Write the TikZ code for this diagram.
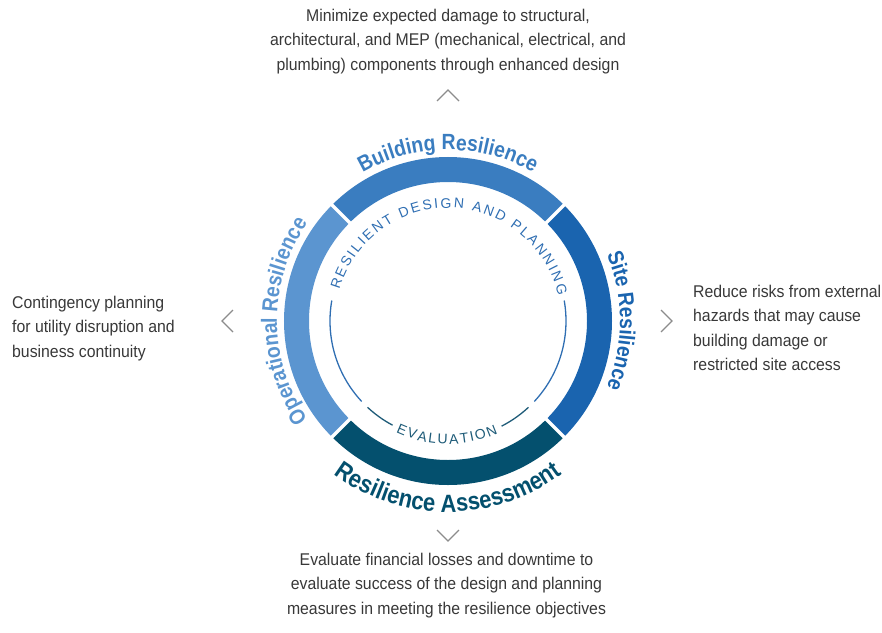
\documentclass[tikz,border=0pt]{standalone}
\usepackage{fontspec}
\newfontfamily\bodyfont{Liberation Sans}[FakeStretch=0.93]
\newfontfamily\labelfont{Liberation Sans}[FakeStretch=0.88]
\newfontfamily\ringfont{Liberation Sans}
\usetikzlibrary{decorations.text}
\definecolor{bldblue}{HTML}{3A7DC0}
\definecolor{siteblue}{HTML}{1A64AF}
\definecolor{opsblue}{HTML}{5B95D0}
\definecolor{assessteal}{HTML}{04506E}
\definecolor{thinblue}{HTML}{2F6EB2}
\definecolor{thinteal}{HTML}{1E5B78}
\definecolor{bodygray}{HTML}{383838}
\definecolor{chevgray}{HTML}{8C8C8C}
\tikzset{
    cycle diagram/.style = {x=1pt, y=1pt},
    ring seg/.style      = {line width=25pt, line cap=butt},
    ring gap/.style      = {draw=white, line width=3.5pt},
    guide/.style         = {line width=1.3pt},
    chevron/.style       = {draw=chevgray, line width=1.3pt},
    blurb/.style         = {font=\bodyfont\fontsize{17}{24.5}\selectfont,
                            text=bodygray, inner sep=0pt},
    ring label/.style n args = {3}{decorate,
        decoration={text along path, text align=center, text color=#1,
                    text={|\labelfont\bfseries\fontsize{#2}{#2}\selectfont|#3}}},
    inner label/.style 2 args = {decorate,
        decoration={text along path, text align={fit to path}, text color=#1,
                    text={|\ringfont\fontsize{14}{14}\selectfont|#2}}}
}

\begin{document}
\begin{tikzpicture}[cycle diagram]
\useasboundingbox (-448,-311) rectangle (434,321);

% ================= Outer ring =================
\draw[ring seg, draw=bldblue]    (135:151.5) arc[start angle=135, end angle=45,  radius=151.5];
\draw[ring seg, draw=siteblue]   (45:151.5)  arc[start angle=45,  end angle=-45, radius=151.5];
\draw[ring seg, draw=assessteal] (-45:151.5) arc[start angle=-45, end angle=-135, radius=151.5];
\draw[ring seg, draw=opsblue]    (225:151.5) arc[start angle=225, end angle=135, radius=151.5];
\foreach \a in {45,135,225,315}
    \draw[ring gap] (\a:137) -- (\a:166);

% ================= Ring labels =================
\path[ring label={bldblue}{22}{Building Resilience}]
    (135:171) arc[start angle=135, end angle=45, radius=171];
\path[ring label={siteblue}{22}{Site Resilience}]
    (45:172) arc[start angle=45, end angle=-45, radius=172];
\path[ring label={opsblue}{22}{Operational Resilience}]
    (225:171) arc[start angle=225, end angle=135, radius=171];
\path[ring label={assessteal}{25}{Resilience Assessment}]
    (225:191) arc[start angle=225, end angle=315, radius=191];

% ================= Inner guide circle =================
\draw[guide, thinblue] (170:118) arc[start angle=170, end angle=223, radius=118];
\draw[guide, thinteal] (227:118) arc[start angle=227, end angle=242, radius=118];
\draw[guide, thinteal] (-63:118) arc[start angle=-63, end angle=-47, radius=118];
\draw[guide, thinblue] (-43:118) arc[start angle=-43, end angle=10, radius=118];
\path[inner label={thinblue}{RESILIENT DESIGN AND PLANNING}]
    (164:113) arc[start angle=164, end angle=13, radius=113];
\path[inner label={thinteal}{EVALUATION}]
    (-115:123) arc[start angle=-115, end angle=-66, radius=123];

% ================= Descriptions and chevrons =================
\node[blurb, anchor=north, align=center] (bldtext) at (0,312.5)
    {Minimize expected damage to structural,\\
     architectural, and MEP (mechanical, electrical, and\\
     plumbing) components through enhanced design};
\draw[chevron] (-11,220) -- (0,231) -- (11,220);

\node[blurb, anchor=north west, align=left] (opstext) at (-436,25.4)
    {Contingency planning\\ for utility disruption and\\ business continuity};
\draw[chevron] (-215,11) -- (-226,0) -- (-215,-11);

\node[blurb, anchor=north west, align=left] (sitetext) at (245,36.4)
    {Reduce risks from external\\ hazards that may cause\\
     building damage or\\ restricted site access};
\draw[chevron] (213,11) -- (224,0) -- (213,-11);

\node[blurb, anchor=north, align=center] (assesstext) at (-1.5,-231.6)
    {Evaluate financial losses and downtime to\\
     evaluate success of the design and planning\\
     measures in meeting the resilience objectives};
\draw[chevron] (-11,-209) -- (0,-220) -- (11,-209);

\end{tikzpicture}
\end{document}
